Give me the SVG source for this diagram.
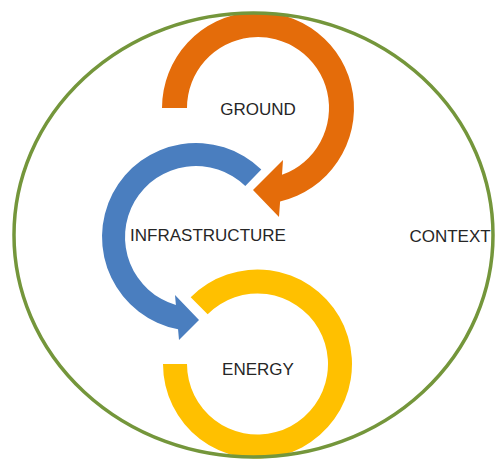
<svg xmlns="http://www.w3.org/2000/svg" width="497" height="461" viewBox="0 0 497 461">
  <style>
    .label { font-family: "Liberation Sans", Arial, sans-serif; font-size: 17px; fill: #262626; text-anchor: middle; }
    .ring { stroke: none; }
  </style>
  <rect width="497" height="461" fill="#ffffff"/>

  <!-- cycle arrows -->
  <g id="connectors">
    <!-- GROUND: clockwise ring ending in an arrowhead pointing at INFRASTRUCTURE -->
    <path id="arrow-ground" class="ring" fill="#e46c0a"
          d="M 162,108 A 96 96 0 1 1 280.1,201.4 L 279,217 L 253,190 L 283,160 L 282,174.8 A 71 71 0 1 0 187,108 Z"/>
    <!-- INFRASTRUCTURE: counter-clockwise ring ending in an arrowhead pointing at ENERGY -->
    <path id="arrow-infrastructure" class="ring" fill="#4a7ebf"
          d="M 261.3,169.4 A 94 94 0 1 0 178.05,329.3 L 179,340 L 199,320 L 175,295 L 175.9,305.1 A 71 71 0 1 1 245.3,185.9 Z"/>
    <!-- ENERGY: open ring -->
    <path id="ring-energy" class="ring" fill="#ffc000"
          d="M 190.7,297.2 A 94.5 94.5 0 1 1 163,364 L 187,364 A 70.5 70.5 0 1 0 207.65,314.15 Z"/>
  </g>

  <!-- CONTEXT boundary -->
  <g id="context">
    <ellipse cx="253.5" cy="235" rx="239.5" ry="222" fill="none" stroke="#74963b" stroke-width="3.5"/>
    <text class="label" x="450" y="242">CONTEXT</text>
  </g>

  <g id="ground">
    <text class="label" x="258" y="115">GROUND</text>
  </g>
  <g id="infrastructure">
    <text class="label" x="208" y="241">INFRASTRUCTURE</text>
  </g>
  <g id="energy">
    <text class="label" x="258" y="375">ENERGY</text>
  </g>
</svg>
